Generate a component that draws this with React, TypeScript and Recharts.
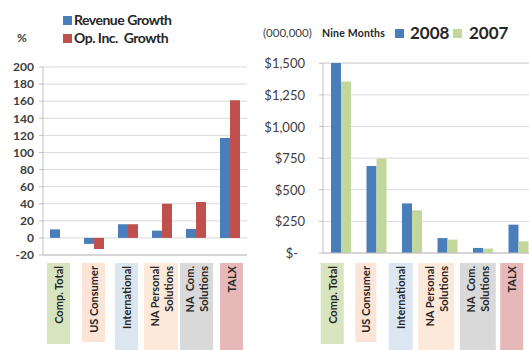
import { Bar, BarChart, CartesianGrid, XAxis, YAxis } from 'recharts';

const FONT = 'Lato, "Open Sans", sans-serif';
const INK = '#262626';
const AXIS_GREY = '#bfbfbf';
const GRID_GREY = '#d9d9d9';

const CATEGORIES = [
  'Comp. Total',
  'US Consumer',
  'International',
  'NA Personal Solutions',
  'NA Com. Solutions',
  'TALX',
];
const CATEGORY_LINES = [
  ['Comp. Total'],
  ['US Consumer'],
  ['International'],
  ['NA Personal', 'Solutions'],
  ['NA  Com.', 'Solutions'],
  ['TALX'],
];
const LABEL_FILLS = ['#d7e4bd', '#fce4d6', '#dce6f1', '#fde9d9', '#d9d9d9', '#e6b9b8'];

// growth, %
const REVENUE_GROWTH = [10, -7, 16, 8.5, 10.5, 117];
const OP_INC_GROWTH = [0, -13, 16, 40, 42, 161];
const GROWTH_TICKS = [-20, 0, 20, 40, 60, 80, 100, 120, 140, 160, 180, 200];

// nine months revenue, $ millions
const REVENUE_2008 = [1502, 687, 392, 118, 40, 224];
const REVENUE_2007 = [1355, 748, 337, 106, 35, 92];
const DOLLAR_TICKS = [0, 250, 500, 750, 1000, 1250, 1500];

const GROWTH_SERIES = [
  { key: 'revenue', name: 'Revenue Growth', color: '#4a7ebb' },
  { key: 'opInc', name: 'Op. Inc.  Growth', color: '#c0504d' },
];
const YEAR_SERIES = [
  { key: 'y2008', name: '2008', color: '#4a7ebb' },
  { key: 'y2007', name: '2007', color: '#c3d69b' },
];

const growthData = CATEGORIES.map((name, i) => ({
  name,
  revenue: REVENUE_GROWTH[i],
  opInc: OP_INC_GROWTH[i],
}));
const revenueData = CATEGORIES.map((name, i) => ({
  name,
  y2008: REVENUE_2008[i],
  y2007: REVENUE_2007[i],
}));

// label box placement relative to each category centre
type Box = { dx: number; w: number; h: number };
const GROWTH_BOXES: Box[] = [
  { dx: -13, w: 23, h: 81 },
  { dx: -12, w: 23, h: 79 },
  { dx: -13, w: 23, h: 90 },
  { dx: -18, w: 34, h: 90 },
  { dx: -16, w: 33, h: 90 },
  { dx: -10, w: 23, h: 90 },
];
const REVENUE_BOXES: Box[] = [
  { dx: -20, w: 23, h: 81 },
  { dx: -21, w: 21, h: 79 },
  { dx: -23, w: 24, h: 90 },
  { dx: -29, w: 36, h: 90 },
  { dx: -23, w: 36, h: 90 },
  { dx: -18, w: 23, h: 90 },
];

function makeCategoryTick(boxes: Box[]) {
  return function CategoryTick(props: any) {
    const { x, y, payload } = props;
    const i = CATEGORIES.indexOf(payload.value);
    const b = boxes[i];
    const left = x + b.dx;
    const cx = left + b.w / 2;
    const lines = CATEGORY_LINES[i];
    return (
      <g>
        <rect x={left} y={y} width={b.w} height={b.h} fill={LABEL_FILLS[i]} />
        {lines.map((t, j) => {
          const lx = cx + (j - (lines.length - 1) / 2) * 14;
          return (
            <text
              key={j}
              transform={`translate(${lx},${y + 3}) rotate(-90)`}
              textAnchor="end"
              dominantBaseline="central"
              fontFamily={FONT}
              fontSize={11}
              fontWeight={700}
              fill={INK}
              style={{ whiteSpace: 'pre' }}
            >
              {t}
            </text>
          );
        })}
      </g>
    );
  };
}

function DollarTick(props: any) {
  const { x, y, payload } = props;
  const v = payload.value as number;
  const label = v === 0 ? '$-' : '$' + v.toLocaleString('en-US');
  return (
    <text
      x={v === 0 ? x - 7 : x}
      y={y}
      textAnchor="end"
      dominantBaseline="central"
      fontFamily={FONT}
      fontSize={13}
      fill="#404040"
    >
      {label}
    </text>
  );
}

function Swatch({ left, top, color }: { left: number; top: number; color: string }) {
  return (
    <div style={{ position: 'absolute', left, top, width: 9, height: 9, background: color }} />
  );
}

function Label({ left, cy, size, weight, color, spacing = 0, children }: any) {
  return (
    <div
      style={{
        position: 'absolute',
        left,
        top: cy - 8,
        height: 16,
        lineHeight: '16px',
        fontSize: size,
        fontWeight: weight,
        letterSpacing: spacing,
        color,
        whiteSpace: 'pre',
      }}
    >
      {children}
    </div>
  );
}

export default function App() {
  const GrowthTick = makeCategoryTick(GROWTH_BOXES);
  const RevenueTick = makeCategoryTick(REVENUE_BOXES);

  return (
    <div
      style={{
        position: 'absolute',
        left: 0,
        top: 0,
        width: 529,
        height: 350,
        overflow: 'hidden',
        background: '#fff',
        fontFamily: FONT,
      }}
    >
      {/* growth chart */}
      <div style={{ position: 'absolute', left: 0, top: 0 }}>
        <BarChart
          width={265}
          height={350}
          data={growthData}
          margin={{ top: 67, right: 18, bottom: 0, left: 0 }}
          barSize={10}
          barGap={0}
        >
          <CartesianGrid vertical={false} stroke={GRID_GREY} />
          <XAxis
            dataKey="name"
            height={95}
            interval={0}
            tickLine={false}
            tickSize={0}
            tickMargin={8}
            axisLine={{ stroke: AXIS_GREY }}
            tick={GrowthTick}
          />
          <YAxis
            width={43}
            domain={[-20, 200]}
            ticks={GROWTH_TICKS}
            interval={0}
            tickSize={4}
            tickMargin={5}
            axisLine={{ stroke: AXIS_GREY }}
            tickLine={{ stroke: AXIS_GREY }}
            tick={{ fontFamily: FONT, fontSize: 12, fontWeight: 700, fill: '#404040' }}
          />
          {GROWTH_SERIES.map((s) => (
            <Bar key={s.key} dataKey={s.key} name={s.name} fill={s.color} isAnimationActive={false} />
          ))}
        </BarChart>
      </div>

      {/* nine months revenue chart */}
      <div style={{ position: 'absolute', left: 265, top: 0 }}>
        <BarChart
          width={271}
          height={350}
          data={revenueData}
          margin={{ top: 63, right: 0, bottom: 0, left: 0 }}
          barSize={10}
          barGap={0}
        >
          <CartesianGrid vertical={false} stroke={GRID_GREY} />
          <XAxis
            dataKey="name"
            height={97}
            interval={0}
            tickLine={false}
            tickSize={0}
            tickMargin={10}
            axisLine={{ stroke: AXIS_GREY }}
            tick={RevenueTick}
          />
          <YAxis
            width={58}
            domain={[0, 1500]}
            ticks={DOLLAR_TICKS}
            interval={0}
            tickSize={4}
            tickMargin={14}
            axisLine={{ stroke: AXIS_GREY }}
            tickLine={{ stroke: AXIS_GREY }}
            tick={DollarTick}
          />
          {YEAR_SERIES.map((s) => (
            <Bar key={s.key} dataKey={s.key} name={s.name} fill={s.color} isAnimationActive={false} />
          ))}
        </BarChart>
      </div>

      {/* growth legend */}
      <Label left={17} cy={38} size={12} weight={700} color="#404040">%</Label>
      {GROWTH_SERIES.map((s, i) => (
        <div key={s.key}>
          <Swatch left={63} top={16 + i * 18} color={s.color} />
          <Label left={74} cy={20 + i * 18} size={14} weight={700} spacing={-0.5} color={INK}>
            {s.name}
          </Label>
        </div>
      ))}

      {/* revenue legend */}
      <Label left={263} cy={33} size={11.5} weight={400} color="#404040">(000,000)</Label>
      <Label left={322} cy={33} size={10.5} weight={700} spacing={0.2} color={INK}>Nine Months</Label>
      {YEAR_SERIES.map((s, i) => (
        <div key={s.key}>
          <Swatch left={395 + i * 58} top={29} color={s.color} />
          <Label left={410 + i * 59} cy={33} size={17} weight={700} color={INK}>
            {s.name}
          </Label>
        </div>
      ))}
    </div>
  );
}
